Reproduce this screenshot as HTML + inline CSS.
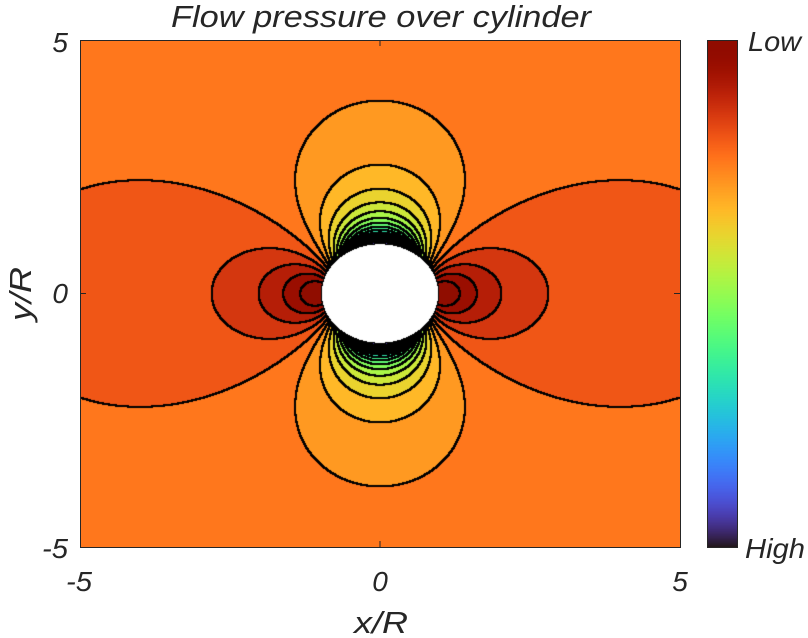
<!DOCTYPE html>
<html><head><meta charset="utf-8"><style>
html,body{margin:0;padding:0;background:#fff;width:808px;height:638px;overflow:hidden}
#c{position:absolute;left:80px;top:40px}
#cb{position:absolute;left:707px;top:40px}
svg{position:absolute;left:0;top:0}
text{font-family:"Liberation Sans Narrow","Liberation Sans",sans-serif;font-style:italic;fill:#262626}
</style></head><body>
<canvas id="c" width="600" height="507"></canvas>
<canvas id="cb" width="30" height="507"></canvas>
<svg width="808" height="638">
<rect x="80.5" y="40.5" width="600" height="507" fill="none" stroke="#262626" stroke-width="1"/>
<line x1="380" y1="40" x2="380" y2="46" stroke="#262626"/>
<line x1="380" y1="547" x2="380" y2="541" stroke="#262626"/>
<line x1="80" y1="293.5" x2="86" y2="293.5" stroke="#262626"/>
<line x1="680" y1="293.5" x2="674" y2="293.5" stroke="#262626"/>
<rect x="707.5" y="40.5" width="30" height="507" fill="none" stroke="#262626"/>
<text x="381" y="27" font-size="31" text-anchor="middle" textLength="420" lengthAdjust="spacingAndGlyphs">Flow pressure over cylinder</text>
<text x="68" y="52" font-size="28" text-anchor="end">5</text>
<text x="68" y="303" font-size="28" text-anchor="end">0</text>
<text x="68" y="558" font-size="28" text-anchor="end" textLength="26" lengthAdjust="spacingAndGlyphs">-5</text>
<text x="79" y="591" font-size="28" text-anchor="middle" textLength="26" lengthAdjust="spacingAndGlyphs">-5</text>
<text x="380" y="591" font-size="28" text-anchor="middle">0</text>
<text x="680" y="591" font-size="28" text-anchor="middle">5</text>
<text x="381" y="633" font-size="31" text-anchor="middle" textLength="54" lengthAdjust="spacingAndGlyphs">x/R</text>
<text transform="translate(31,294) rotate(-90)" font-size="31" text-anchor="middle" textLength="54" lengthAdjust="spacingAndGlyphs">y/R</text>
<text x="748" y="51" font-size="28" textLength="53" lengthAdjust="spacingAndGlyphs">Low</text>
<text x="745" y="558" font-size="28" textLength="60" lengthAdjust="spacingAndGlyphs">High</text>
</svg>
<script>
function turbo(t){t=Math.max(0,Math.min(1,t));
var r=0.13572138+t*(4.61539260+t*(-42.66032258+t*(132.13108234+t*(-152.94239396+t*59.28637943))));
var g=0.09140261+t*(2.19418839+t*(4.84296658+t*(-14.18503333+t*(4.27729857+t*2.82956604))));
var b=0.10667330+t*(12.64194608+t*(-60.58204836+t*(110.36276771+t*(-89.90310912+t*27.34824973))));
return [Math.round(255*Math.max(0,Math.min(1,r))),Math.round(255*Math.max(0,Math.min(1,g))),Math.round(255*Math.max(0,Math.min(1,b)))];}
var W=600,H=507,step=4/21;
var cv=document.getElementById('c'),ctx=cv.getContext('2d');
var img=ctx.createImageData(W,H),d=img.data;
var band=new Int16Array(W*H);
for(var j=0;j<H;j++)for(var i=0;i<W;i++){
 var x=(i+0.5-300)/60,y=(253.5-(j+0.5))/50.7;var r2=x*x+y*y;
 var k;
 if(r2<0.97*0.97){k=-999;}
 else{var c2=(x*x-y*y)/r2;var cp=2*c2/r2-1/(r2*r2);k=Math.floor((cp+3)/step);if(k<0)k=0;if(k>20)k=20;}
 band[j*W+i]=k;}
for(var j=0;j<H;j++)for(var i=0;i<W;i++){
 var p=j*W+i,k=band[p],o=p*4,col;
 if(k==-999)col=[255,255,255];else col=turbo((k+1)/21);
 var edge=false;
 for(var dj=-1;dj<=1&&!edge;dj++)for(var di=-1;di<=1;di++){var ii=i+di,jj=j+dj;if(ii<0||ii>=W||jj<0||jj>=H)continue;if(band[jj*W+ii]!=k&&(k!=-999)){edge=true;break;}}
 if(edge)col=[0,0,0];
 d[o]=col[0];d[o+1]=col[1];d[o+2]=col[2];d[o+3]=255;}
ctx.putImageData(img,0,0);
var cb=document.getElementById('cb'),cc=cb.getContext('2d');
for(var j=0;j<507;j++){var c=turbo(1-j/506);cc.fillStyle='rgb('+c[0]+','+c[1]+','+c[2]+')';cc.fillRect(0,j,30,1);}
</script>
</body></html>
